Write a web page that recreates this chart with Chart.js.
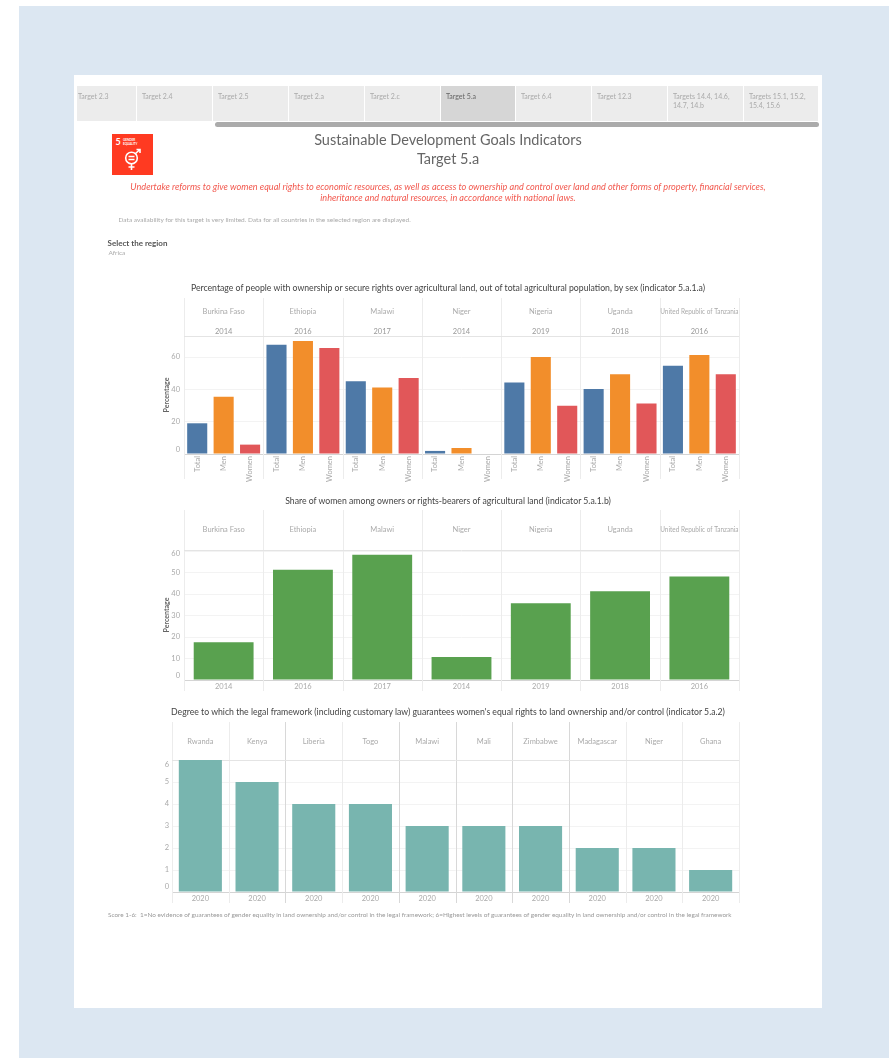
<!DOCTYPE html>
<html>
<head>
<meta charset="utf-8">
<title>Target 5.a</title>
<script src="https://cdn.jsdelivr.net/npm/chart.js@4/dist/chart.umd.min.js"></script>
<style>
  html, body { margin: 0; padding: 0; background: #fff; }
  body { position: relative; width: 889px; height: 1058px; overflow: hidden; font-family: Lato, sans-serif; }
  #panel { position: absolute; left: 19px; top: 6px; width: 870px; height: 1052px; background: #dce7f2; }
  #card { position: absolute; left: 74px; top: 75px; width: 748px; height: 933px; background: #fff; }
  #sheet { position: absolute; left: 0; top: 0; width: 889px; height: 1058px; filter: blur(0.5px); }
  .txt { position: absolute; white-space: nowrap; line-height: 1; }
  .mid { left: 74px; width: 748px; text-align: center; }
  .tab { position: absolute; top: 86px; height: 35px; background: #ececec; color: #aaa; font-size: 7px; line-height: 9.5px; box-sizing: border-box; padding-top: 5.5px; }
  .tab.on { background: #d6d6d6; color: #666; }
  #scrollbar { position: absolute; left: 215px; top: 122px; width: 604px; height: 5px; border-radius: 3px; background: #ababab; }
  canvas { position: absolute; }
  svg { position: absolute; left: 112px; top: 134px; }
</style>
</head>
<body>
<div id="panel"></div>
<div id="card"></div>
<div id="sheet">
<div id="tabs"></div>
<div id="scrollbar"></div>

<svg width="41" height="41" viewBox="0 0 41 41">
  <rect width="41" height="41" fill="#ff3a21"/>
  <text x="3.5" y="10.5" font-family="Lato" font-weight="700" font-size="9" fill="#fff">5</text>
  <text x="11" y="6.5" font-family="Lato" font-weight="700" font-size="3" fill="#fff">GENDER</text>
  <text x="11" y="10.5" font-family="Lato" font-weight="700" font-size="3" fill="#fff">EQUALITY</text>
  <g fill="none" stroke="#fff" stroke-width="1.6">
    <circle cx="19.5" cy="24" r="5.8"/>
    <path d="M23.5 19.5 L28 15.5 M24.5 15.5 H28 V19"/>
    <path d="M19.5 30 V36 M16.5 33 H22.5"/>
  </g>
  <path d="M16.5 22.5 H22.5 M16.5 25.5 H22.5" stroke="#fff" stroke-width="1.3"/>
</svg>

<div class="txt mid" style="top:132.5px;font-size:14.5px;color:#666">Sustainable Development Goals Indicators</div>
<div class="txt mid" style="top:151.5px;font-size:14.5px;color:#666">Target 5.a</div>
<div class="txt mid" style="top:181.5px;font-size:9.15px;font-style:italic;color:#f2584e">Undertake reforms to give women equal rights to economic resources, as well as access to ownership and control over land and other forms of property, financial services,</div>
<div class="txt mid" style="top:192.5px;font-size:9.15px;font-style:italic;color:#f2584e">inheritance and natural resources, in accordance with national laws.</div>
<div class="txt" style="left:118.5px;top:216.5px;font-size:6.5px;color:#aaa">Data availability for this target is very limited. Data for all countries in the selected region are displayed.</div>
<div class="txt" style="left:107.5px;top:239px;font-size:8px;font-weight:700;color:#555">Select the region</div>
<div class="txt" style="left:108.5px;top:250px;font-size:6.5px;color:#aaa">Africa</div>

<div class="txt mid" style="top:284px;font-size:8.7px;color:#444">Percentage of people with ownership or secure rights over agricultural land, out of total agricultural population, by sex (indicator 5.a.1.a)</div>
<div class="txt mid" style="top:496.5px;font-size:8.7px;color:#444">Share of women among owners or rights-bearers of agricultural land (indicator 5.a.1.b)</div>
<div class="txt mid" style="top:708px;font-size:8.7px;color:#444">Degree to which the legal framework (including customary law) guarantees women's equal rights to land ownership and/or control (indicator 5.a.2)</div>
<div class="txt" style="left:108px;top:912px;font-size:6.42px;color:#999">Score 1-6:&nbsp; 1=No evidence of guarantees of gender equality in land ownership and/or control in the legal framework; 6=Highest levels of guarantees of gender equality in land ownership and/or control in the legal framework</div>

<canvas id="rightsChart" width="610" height="186" style="left:140px;top:296px"></canvas>
<canvas id="shareChart" width="610" height="186" style="left:140px;top:508px"></canvas>
<canvas id="legalChart" width="650" height="186" style="left:100px;top:720px"></canvas>
</div>

<script>
const tabNames = ["Target 2.3", "Target 2.4", "Target 2.5", "Target 2.a", "Target 2.c", "Target 5.a", "Target 6.4", "Target 12.3", "Targets 14.4, 14.6,<br>14.7, 14.b", "Targets 15.1, 15.2,<br>15.4, 15.6"];
const tabEdges = [77, 137, 213, 289, 365, 441, 516, 592, 668, 744, 819];

const countries = ["Burkina Faso", "Ethiopia", "Malawi", "Niger", "Nigeria", "Uganda", "United Republic of Tanzania"];
const surveyYears = ["2014", "2016", "2017", "2014", "2019", "2018", "2016"];
const sexes = ["Total", "Men", "Women"];
const sexColors = ["#4e79a7", "#f28e2b", "#e15759"];

const totalValues = [19, 67.6, 45, 1.9, 44.3, 40.2, 54.6];
const menValues = [35.4, 69.9, 41.2, 3.7, 60, 49.3, 61.2];
const womenValues = [5.8, 65.6, 47, 0.3, 29.9, 31.3, 49.3];

const shareValues = [17.6, 51.3, 58.3, 10.7, 35.7, 41.3, 48.2];

const legalCountries = ["Rwanda", "Kenya", "Liberia", "Togo", "Malawi", "Mali", "Zimbabwe", "Madagascar", "Niger", "Ghana"];
const legalYears = ["2020", "2020", "2020", "2020", "2020", "2020", "2020", "2020", "2020", "2020"];
const legalScores = [6, 5, 4, 4, 3, 3, 3, 2, 2, 1];
const legalDarkLines = [2, 4, 5, 6, 7];

tabNames.forEach((name, i) => {
  const tab = document.createElement("div");
  tab.className = "tab" + (i === 5 ? " on" : "");
  tab.style.left = tabEdges[i] + "px";
  tab.style.width = (tabEdges[i + 1] - tabEdges[i] - 1) + "px";
  tab.style.paddingLeft = (i === 0 ? 1 : 5) + "px";
  tab.innerHTML = name;
  document.getElementById("tabs").appendChild(tab);
});

Chart.defaults.font.family = "Lato";
Chart.defaults.font.size = 7.5;
Chart.defaults.color = "#aaa";

// draws the tableau style panels: separators, country names and survey years over the plot
const panelHeader = {
  id: "panelHeader",
  beforeDatasetsDraw(chart, args, opts) {
    const { ctx, chartArea } = chart;
    const x = chart.scales.x;
    const slot = x.getPixelForValue(1) - x.getPixelForValue(0);
    const perGroup = opts.perGroup;
    ctx.save();
    for (let i = 0; i <= opts.names.length; i++) {
      const edge = Math.round(x.getPixelForValue(i * perGroup) - slot / 2) + 0.5;
      ctx.strokeStyle = (opts.dark || []).includes(i) ? "#d8d8d8" : "#ececec";
      ctx.beginPath();
      ctx.moveTo(edge, opts.lineTop);
      ctx.lineTo(edge, chart.height - 3);
      ctx.stroke();
    }
    ctx.strokeStyle = "#e4e4e4";
    ctx.beginPath();
    ctx.moveTo(chartArea.left, chartArea.top + 0.5);
    ctx.lineTo(chartArea.right, chartArea.top + 0.5);
    ctx.stroke();
    ctx.textAlign = "center";
    ctx.textBaseline = "middle";
    ctx.font = "7.5px Lato";
    opts.names.forEach((name, i) => {
      const mid = x.getPixelForValue(i * perGroup) - slot / 2 + (slot * perGroup) / 2;
      ctx.fillStyle = "#aaa";
      ctx.fillText(name, mid, opts.nameY, slot * perGroup - 1);
      if (opts.years) {
        ctx.fillStyle = "#999";
        ctx.fillText(opts.years[i], mid, opts.yearY);
      }
    });
    ctx.restore();
  },
  // end tick labels sit inside the plot in the reference
  afterLayout(chart, args, opts) {
    const items = chart.scales.y.getLabelItems(chart.chartArea);
    items[0].options.translation[1] += opts.firstShift;
    items[items.length - 1].options.translation[1] += opts.lastShift;
  }
};

function barChart(id, labels, values, colors, ratio, yOpts, header, xOpts, padTop, leftWidth, bottomHeight) {
  return new Chart(document.getElementById(id).getContext("2d"), {
    type: "bar",
    data: {
      labels: labels,
      datasets: [{
        data: values,
        backgroundColor: colors,
        borderWidth: 0,
        barPercentage: ratio,
        categoryPercentage: 1
      }]
    },
    plugins: [panelHeader],
    options: {
      responsive: false,
      animation: false,
      layout: { padding: { top: padTop, right: 11, left: 0, bottom: 0 } },
      plugins: {
        legend: { display: false },
        tooltip: { enabled: false },
        panelHeader: header
      },
      scales: {
        x: Object.assign({
          grid: { display: false, drawTicks: false },
          border: { color: "#d4d4d4" },
          afterFit(scale) { scale.height = bottomHeight; }
        }, xOpts),
        y: Object.assign({
          grid: { color: "#f3f3f3", drawTicks: false },
          border: { display: false },
          afterFit(scale) { scale.width = leftWidth; }
        }, yOpts)
      }
    }
  });
}

const percentTitle = { display: true, text: "Percentage", color: "#666", font: { size: 7, weight: "bold" }, padding: { top: 23, bottom: 0 } };

barChart(
  "rightsChart",
  countries.flatMap((c, i) => sexes.map(s => s)),
  countries.flatMap((c, i) => [totalValues[i], menValues[i], womenValues[i]]),
  countries.flatMap(() => sexColors),
  0.76,
  { min: 0, max: 73, title: percentTitle, ticks: { stepSize: 20, includeBounds: false, padding: 4, autoSkip: false } },
  { names: countries, years: surveyYears, perGroup: 3, nameY: 16, yearY: 35.5, lineTop: 2, firstShift: -4, lastShift: 0 },
  { ticks: { minRotation: 90, maxRotation: 90, autoSkip: false, padding: 2, color: "#aaa" } },
  40, 44, 28
);

barChart(
  "shareChart",
  countries,
  shareValues,
  "#59a14f",
  0.755,
  { min: 0, max: 60.5, title: percentTitle, ticks: { stepSize: 10, includeBounds: false, padding: 4, autoSkip: false } },
  { names: countries, perGroup: 1, nameY: 21.5, lineTop: 2, firstShift: -4, lastShift: 2.5 },
  { ticks: { autoSkip: false, maxRotation: 0, padding: 2, callback: (v, i) => surveyYears[i] } },
  42, 44, 14
);

barChart(
  "legalChart",
  legalCountries,
  legalScores,
  "#78b5af",
  0.76,
  { min: 0, max: 6, ticks: { stepSize: 1, padding: 3, autoSkip: false } },
  { names: legalCountries, perGroup: 1, dark: legalDarkLines, nameY: 22, lineTop: 2, firstShift: -5, lastShift: 5 },
  { ticks: { autoSkip: false, maxRotation: 0, padding: 2, callback: (v, i) => legalYears[i] } },
  40, 72, 14
);
</script>
</body>
</html>
